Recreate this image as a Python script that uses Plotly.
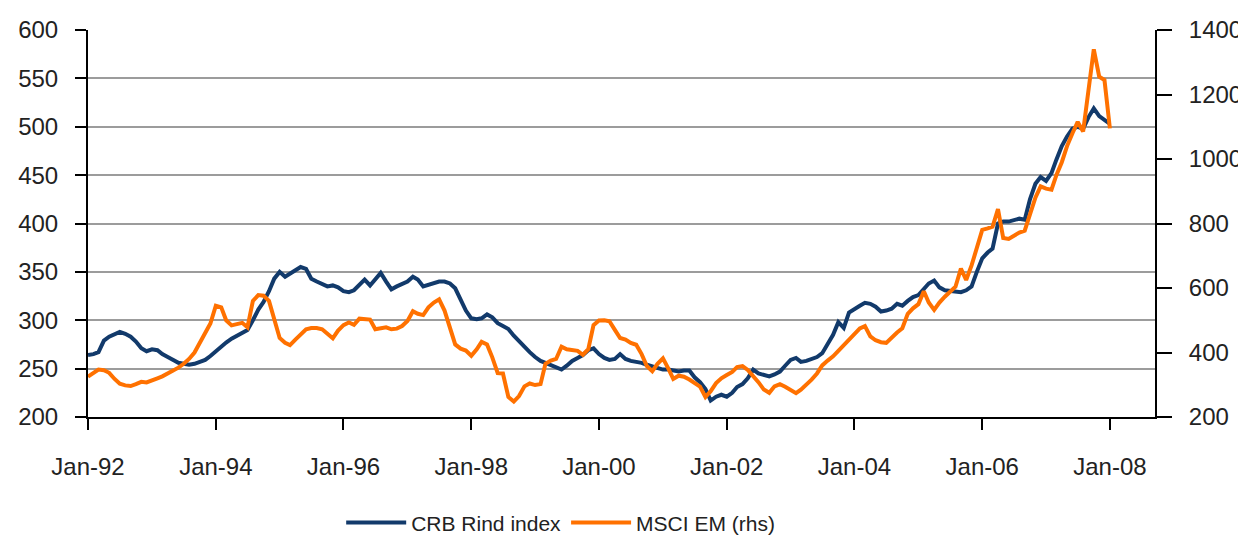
import pandas as pd
import plotly.graph_objects as go

# Monthly observations, Jan-1992 .. Jan-2008
start_month = "1992-01-01"

crb_rind = [
    264, 265, 267, 279, 283, 286, 288, 286, 283, 278, 271, 268,
    270, 269, 265, 262, 259, 256, 255, 254, 255, 257, 259, 263,
    268, 273, 277, 281, 284, 287, 290, 300, 311, 319, 330, 343,
    350, 345, 348, 352, 355, 353, 343, 340, 337, 335, 336, 334,
    330, 329, 331, 337, 342, 336, 342, 349, 340, 332, 335, 338,
    340, 345, 342, 335, 337, 338, 340, 340, 338, 333, 322, 310,
    302, 301, 302, 306, 303, 297, 294, 291, 284, 278, 272, 267,
    262, 258, 256, 254, 251, 249, 253, 258, 261, 264, 269, 271,
    265, 261, 259, 260, 265, 260, 258, 257, 256, 254, 252, 250,
    249, 249, 248, 247, 248, 248, 241, 236, 229, 217, 221, 223,
    221, 225, 231, 234, 240, 249, 245, 243, 242, 244, 247, 253,
    259, 261, 257, 258, 260, 262, 266, 275, 285, 298, 292, 308,
    311, 315, 318, 317, 314, 309, 310, 312, 317, 315, 320, 324,
    326, 332, 338, 341, 334, 331, 330, 329, 329, 331, 335, 350,
    364, 370, 374, 400, 402, 402, 404, 405, 404, 425, 441, 448,
    444, 452, 466, 480, 490, 498, 500, 498, 510, 519, 511, 507,
    503,
]

msci_em = [
    325, 338, 347, 345, 337, 318, 303, 298, 296, 302, 309, 307,
    315, 320, 326, 334, 342, 353, 365, 380, 400, 430, 458, 490,
    545, 540, 500, 484, 488, 492, 478, 560, 578, 576, 560, 500,
    445, 430, 423, 440, 458, 472, 476, 476, 472, 458, 444, 468,
    485, 493, 486, 505, 504, 502, 472, 475, 478, 472, 474, 482,
    498, 528, 520, 516, 540, 555, 565, 530, 480, 425, 412, 406,
    390, 410, 433, 425, 385, 336, 335, 262, 248, 265, 295, 304,
    299, 302, 365, 375, 380, 418, 410, 408, 405, 393, 410, 485,
    499, 500, 497, 470, 445, 440, 430, 424, 395, 358, 342, 365,
    382, 350, 318, 328, 325, 316, 305, 294, 262, 280, 305, 320,
    330, 340, 355, 358, 346, 328, 308, 285, 275, 295, 302, 294,
    285, 274, 285, 300, 316, 335, 360, 375, 388, 405, 423, 440,
    455, 475, 482, 450, 438, 432, 430, 448, 462, 475, 520, 537,
    550, 590, 555, 532, 555, 573, 590, 604, 660, 625, 670, 720,
    780, 785, 790, 845, 755, 752, 762, 772, 778, 830, 880, 915,
    908, 905, 950, 990, 1040, 1080, 1115, 1085, 1220, 1340, 1255, 1245,
    1095,
]

tick_dates = ["1992-01-01", "1994-01-01", "1996-01-01", "1998-01-01",
              "2000-01-01", "2002-01-01", "2004-01-01", "2006-01-01", "2008-01-01"]
tick_labels = ["Jan-92", "Jan-94", "Jan-96", "Jan-98", "Jan-00",
               "Jan-02", "Jan-04", "Jan-06", "Jan-08"]

series_names = ["CRB Rind index", "MSCI EM (rhs)"]

dates = pd.date_range(start_month, periods=len(crb_rind), freq="MS")

BLUE = "#123a6b"
ORANGE = "#ff7100"
FONT = "Liberation Sans, Arial, sans-serif"

fig = go.Figure()
fig.add_trace(go.Scatter(x=dates, y=crb_rind, name=series_names[0], mode="lines",
                         line=dict(color=BLUE, width=4), yaxis="y"))
fig.add_trace(go.Scatter(x=dates, y=msci_em, name=series_names[1], mode="lines",
                         line=dict(color=ORANGE, width=4), yaxis="y2"))

# page body has an 8px default margin; size the figure to fit the window
fig.update_layout(
    width=1238, height=534,
    margin=dict(l=80, r=91, t=22, b=125, autoexpand=False),
    paper_bgcolor="white", plot_bgcolor="white",
    font=dict(family=FONT, size=24, color="#222222"),
    showlegend=True,
    legend=dict(orientation="h", xref="paper", x=0.443, xanchor="center",
                yref="container", y=0.036, yanchor="middle",
                font=dict(size=21, color="#222222"), itemwidth=60, traceorder="normal",
                bgcolor="rgba(0,0,0,0)"),
    xaxis=dict(
        type="date", range=["1992-01-01", "2008-09-15"],
        tickmode="array", tickvals=tick_dates, ticktext=tick_labels,
        showgrid=False, showline=True, linecolor="black", linewidth=2,
        ticks="outside", ticklen=11, tickwidth=2, tickcolor="black",
        ticklabelstandoff=16, zeroline=False, automargin=False,
    ),
    yaxis=dict(
        range=[200, 600], tickmode="linear", tick0=200, dtick=50,
        showgrid=True, gridcolor="#9c9c9c", gridwidth=1.5,
        showline=True, linecolor="black", linewidth=2,
        ticks="outside", ticklen=11, tickwidth=2, tickcolor="black",
        ticklabelstandoff=12, zeroline=False, automargin=False,
    ),
    yaxis2=dict(
        range=[200, 1400], tickmode="linear", tick0=200, dtick=200,
        overlaying="y", side="right", showgrid=False,
        showline=True, linecolor="black", linewidth=2,
        ticks="outside", ticklen=15, tickwidth=2, tickcolor="black",
        ticklabelstandoff=12, zeroline=False, automargin=False,
    ),
)

fig.write_html("out.html")
